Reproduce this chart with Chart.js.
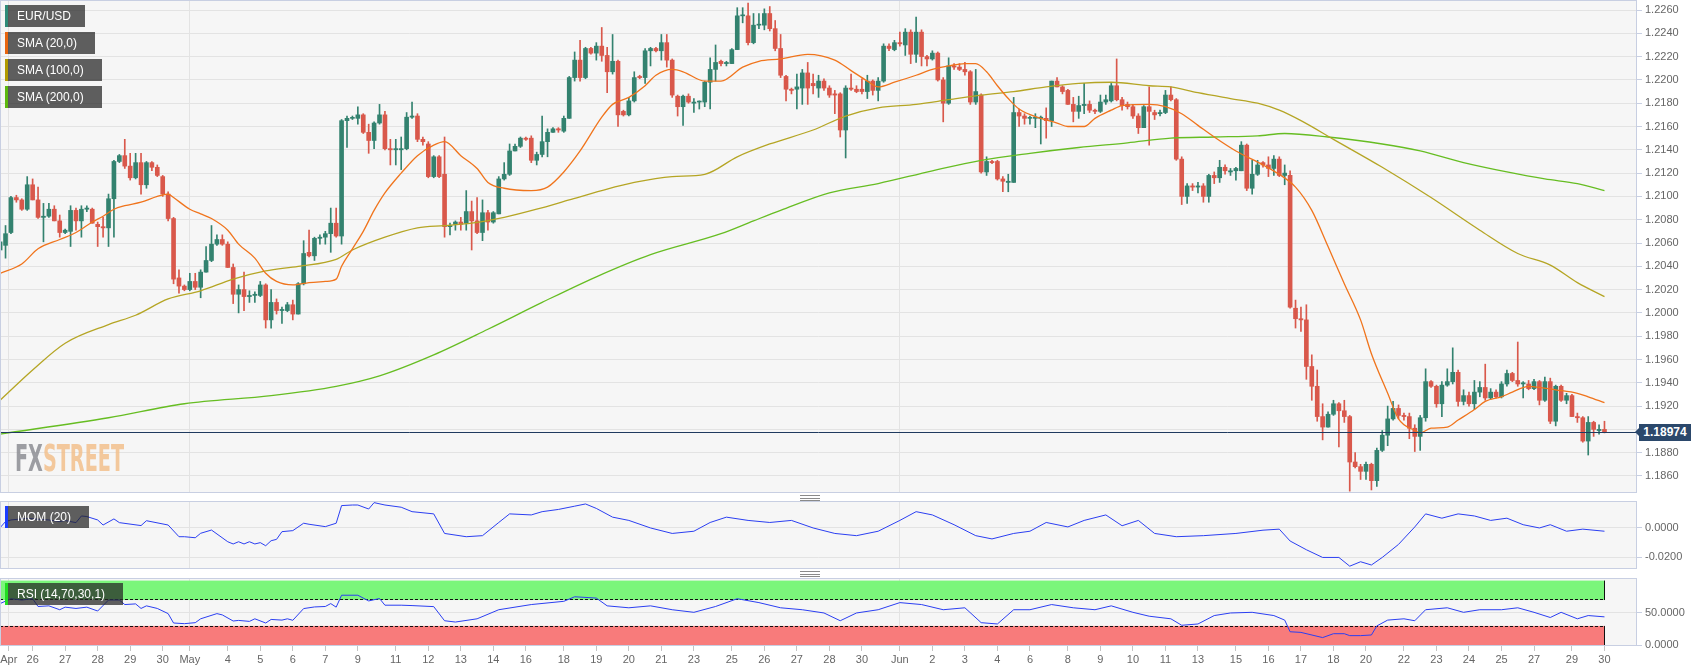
<!DOCTYPE html>
<html><head><meta charset="utf-8">
<script src="https://cdn.jsdelivr.net/npm/chart.js@4.4.1/dist/chart.umd.min.js"></script>
<style>
html,body{margin:0;padding:0;background:#fff;}
#wrap{position:relative;width:1707px;height:672px;overflow:hidden;font-family:"Liberation Sans",Arial,sans-serif;}
canvas{position:absolute;left:0;}
.tag{position:absolute;left:5px;height:22px;line-height:22px;color:#fff;font-size:12px;background:rgba(37,37,37,0.73);box-sizing:border-box;padding-left:12px;white-space:nowrap;}
.tag i{position:absolute;left:0;top:0;bottom:0;width:3px;}
#plabel{position:absolute;left:1639px;width:52px;height:17px;line-height:17px;background:#2b486b;color:#fff;font-weight:bold;font-size:12px;text-align:center;}
#plabel:before{content:'';position:absolute;left:-4px;top:4px;border-top:4.5px solid transparent;border-bottom:4.5px solid transparent;border-right:4px solid #2b486b;}
#wm{position:absolute;left:15px;top:440px;font-family:"DejaVu Sans Condensed","DejaVu Sans",sans-serif;font-weight:bold;font-size:37px;line-height:37px;transform-origin:0 0;white-space:nowrap;opacity:0.85;}
.grip{position:absolute;left:800px;width:20px;height:4px;border-top:1px solid #8a8a8a;border-bottom:1px solid #8a8a8a;}
.grip:after{content:'';position:absolute;left:0;right:0;top:1.5px;height:1px;background:#8a8a8a;}
</style></head>
<body>
<div id="wrap">
<canvas id="cMain" width="1707" height="493" style="top:0"></canvas>
<canvas id="cMom" width="1707" height="68" style="top:501px"></canvas>
<canvas id="cRsi" width="1707" height="94" style="top:578px"></canvas>
<div id="wm"><span style="color:#8c8e93">FX</span><span style="color:#f2c08c">STREET</span></div>
<div class="tag" style="top:5px;width:80px"><i style="background:#2e8b78"></i>EUR/USD</div>
<div class="tag" style="top:32px;width:90px"><i style="background:#e8650f"></i>SMA (20,0)</div>
<div class="tag" style="top:59px;width:97px"><i style="background:#b09a00"></i>SMA (100,0)</div>
<div class="tag" style="top:86px;width:97px"><i style="background:#5cb80f"></i>SMA (200,0)</div>
<div class="tag" style="top:506px;width:84px"><i style="background:#1a3cff"></i>MOM (20)</div>
<div class="tag" style="top:583px;width:118px"><i style="background:#22dd22"></i>RSI (14,70,30,1)</div>
<div class="grip" style="top:495px"></div>
<div class="grip" style="top:571px"></div>
<div id="plabel"></div>
</div>
<script>
// ---------------- DATA ----------------
const open = [
1.2054,1.2058,1.2069,1.2099,1.2097,1.2089,1.2110,1.2097,1.2082,1.2083,
1.2089,1.2079,1.2069,1.2070,1.2088,1.2079,1.2089,1.2089,1.2076,1.2074,
1.2073,1.2098,1.2130,1.2135,1.2126,1.2116,1.2129,1.2110,1.2129,1.2125,
1.2117,1.2102,1.2081,1.2030,1.2023,1.2020,1.2027,1.2022,1.2035,1.2045,
1.2059,1.2063,1.2059,1.2039,1.2016,1.2020,1.2014,1.2015,1.2015,1.2024,
1.1994,1.2009,1.2002,1.2002,1.2007,1.1999,1.2025,1.2052,1.2049,1.2064,
1.2065,1.2068,1.2077,1.2066,1.2165,1.2167,1.2167,1.2170,1.2155,1.2148,
1.2163,1.2170,1.2141,1.2140,1.2140,1.2141,1.2168,1.2169,1.2149,1.2145,
1.2117,1.2134,1.2119,1.2074,1.2076,1.2078,1.2077,1.2087,1.2079,1.2069,
1.2086,1.2078,1.2085,1.2115,1.2119,1.2139,1.2143,1.2150,1.2150,1.2131,
1.2136,1.2147,1.2155,1.2158,1.2156,1.2167,1.2202,1.2217,1.2202,1.2227,
1.2223,1.2229,1.2221,1.2207,1.2216,1.2173,1.2170,1.2182,1.2203,1.2202,
1.2225,1.2227,1.2225,1.2232,1.2217,1.2186,1.2177,1.2186,1.2180,1.2181,
1.2181,1.2198,1.2209,1.2216,1.2214,1.2214,1.2226,1.2255,1.2255,1.2232,
1.2247,1.2247,1.2257,1.2244,1.2227,1.2203,1.2192,1.2192,1.2193,1.2206,
1.2197,1.2193,1.2199,1.2193,1.2188,1.2188,1.2157,1.2193,1.2192,1.2192,
1.2190,1.2199,1.2191,1.2199,1.2229,1.2226,1.2232,1.2230,1.2241,1.2222,
1.2241,1.2220,1.2218,1.2223,1.2200,1.2180,1.2212,1.2211,1.2209,1.2207,
1.2181,1.2187,1.2121,1.2130,1.2130,1.2115,1.2112,1.2112,1.2172,1.2169,
1.2167,1.2167,1.2167,1.2167,1.2165,1.2199,1.2194,1.2191,1.2179,1.2173,
1.2178,1.2179,1.2174,1.2173,1.2181,1.2182,1.2195,1.2183,1.2179,1.2177,
1.2169,1.2159,1.2177,1.2172,1.2171,1.2172,1.2187,1.2183,1.2132,1.2100,
1.2109,1.2108,1.2109,1.2100,1.2118,1.2116,1.2125,1.2121,1.2122,1.2122,
1.2144,1.2107,1.2119,1.2129,1.2127,1.2124,1.2132,1.2118,1.2118,1.2004,
1.1995,1.1994,1.1954,1.1937,1.1911,1.1902,1.1913,1.1922,1.1916,1.1911,
1.1872,1.1868,1.1864,1.1870,1.1856,1.1882,1.1895,1.1909,1.1918,1.1912,
1.1911,1.1901,1.1894,1.1910,1.1941,1.1937,1.1922,1.1938,1.1941,1.1949,
1.1924,1.1929,1.1922,1.1932,1.1936,1.1927,1.1932,1.1928,1.1939,1.1948,
1.1942,1.1939,1.1939,1.1935,1.1941,1.1925,1.1941,1.1907,1.1937,1.1925,
1.1929,1.1911,1.1910,1.1890,1.1906,1.1899,1.1900];
const high = [
1.2064,1.2075,1.2100,1.2101,1.2098,1.2117,1.2115,1.2108,1.2094,1.2094,
1.2092,1.2084,1.2072,1.2092,1.2090,1.2092,1.2092,1.2090,1.2078,1.2082,
1.2102,1.2131,1.2136,1.2149,1.2137,1.2137,1.2137,1.2130,1.2130,1.2127,
1.2118,1.2104,1.2082,1.2037,1.2024,1.2034,1.2034,1.2037,1.2057,1.2075,
1.2067,1.2067,1.2061,1.2042,1.2024,1.2035,1.2019,1.2018,1.2027,1.2025,
1.2020,1.2012,1.2005,1.2009,1.2011,1.2026,1.2062,1.2071,1.2065,1.2067,
1.2070,1.2090,1.2090,1.2166,1.2169,1.2169,1.2177,1.2171,1.2162,1.2164,
1.2179,1.2173,1.2149,1.2149,1.2151,1.2172,1.2181,1.2171,1.2151,1.2147,
1.2135,1.2135,1.2151,1.2077,1.2079,1.2082,1.2105,1.2096,1.2099,1.2097,
1.2088,1.2087,1.2117,1.2129,1.2145,1.2145,1.2151,1.2151,1.2152,1.2138,
1.2169,1.2158,1.2159,1.2159,1.2169,1.2203,1.2224,1.2234,1.2228,1.2228,
1.2232,1.2245,1.2228,1.2239,1.2217,1.2174,1.2185,1.2207,1.2204,1.2227,
1.2228,1.2228,1.2239,1.2239,1.2218,1.2187,1.2187,1.2188,1.2184,1.2182,
1.2199,1.2219,1.2230,1.2217,1.2216,1.2227,1.2262,1.2262,1.2266,1.2257,
1.2257,1.2261,1.2263,1.2251,1.2239,1.2204,1.2193,1.2205,1.2209,1.2215,
1.2205,1.2204,1.2201,1.2195,1.2191,1.2189,1.2195,1.2205,1.2195,1.2201,
1.2204,1.2200,1.2202,1.2231,1.2231,1.2234,1.2241,1.2244,1.2243,1.2254,
1.2243,1.2221,1.2225,1.2224,1.2202,1.2219,1.2214,1.2214,1.2215,1.2208,
1.2209,1.2188,1.2134,1.2131,1.2131,1.2117,1.2119,1.2185,1.2175,1.2171,
1.2169,1.2171,1.2169,1.2176,1.2199,1.2202,1.2195,1.2192,1.2185,1.2186,
1.2197,1.2182,1.2175,1.2187,1.2187,1.2197,1.2218,1.2185,1.2181,1.2179,
1.2171,1.2178,1.2194,1.2174,1.2174,1.2191,1.2194,1.2184,1.2134,1.2111,
1.2111,1.2112,1.2111,1.2119,1.2121,1.2131,1.2127,1.2124,1.2125,1.2147,
1.2145,1.2131,1.2131,1.2130,1.2134,1.2135,1.2134,1.2127,1.2122,1.2011,
1.2005,1.2007,1.1964,1.1951,1.1922,1.1915,1.1925,1.1923,1.1925,1.1912,
1.1880,1.1870,1.1872,1.1871,1.1884,1.1899,1.1920,1.1924,1.1921,1.1914,
1.1914,1.1904,1.1912,1.1952,1.1942,1.1938,1.1941,1.1952,1.1970,1.1951,
1.1934,1.1932,1.1942,1.1941,1.1956,1.1935,1.1934,1.1941,1.1951,1.1949,
1.1975,1.1941,1.1942,1.1943,1.1942,1.1945,1.1944,1.1938,1.1938,1.1931,
1.1930,1.1914,1.1911,1.1911,1.1907,1.1904,1.1907];
const low = [
1.2048,1.2047,1.2068,1.2095,1.2088,1.2088,1.2097,1.2081,1.2061,1.2082,
1.2079,1.2065,1.2068,1.2057,1.2071,1.2065,1.2087,1.2077,1.2057,1.2065,
1.2057,1.2065,1.2129,1.2124,1.2114,1.2115,1.2102,1.2107,1.2122,1.2117,
1.2100,1.2079,1.2025,1.2017,1.2019,1.2019,1.2020,1.2013,1.2035,1.2044,
1.2058,1.2058,1.2039,1.2008,1.2000,1.2002,1.2009,1.2009,1.2014,1.1987,
1.1987,1.1999,1.1991,1.2001,1.1994,1.1999,1.2024,1.2048,1.2045,1.2059,
1.2059,1.2052,1.2065,1.2059,1.2142,1.2166,1.2162,1.2154,1.2137,1.2141,
1.2162,1.2140,1.2127,1.2127,1.2123,1.2140,1.2167,1.2147,1.2144,1.2116,
1.2116,1.2116,1.2065,1.2067,1.2071,1.2071,1.2071,1.2054,1.2068,1.2062,
1.2071,1.2077,1.2085,1.2114,1.2118,1.2139,1.2142,1.2148,1.2129,1.2127,
1.2134,1.2134,1.2155,1.2155,1.2155,1.2167,1.2199,1.2199,1.2201,1.2222,
1.2217,1.2216,1.2189,1.2205,1.2160,1.2169,1.2169,1.2181,1.2201,1.2197,
1.2212,1.2224,1.2217,1.2211,1.2185,1.2169,1.2161,1.2180,1.2172,1.2175,
1.2177,1.2175,1.2199,1.2212,1.2212,1.2214,1.2226,1.2249,1.2230,1.2231,
1.2244,1.2243,1.2242,1.2225,1.2202,1.2182,1.2188,1.2175,1.2179,1.2179,
1.2188,1.2185,1.2191,1.2185,1.2171,1.2151,1.2133,1.2191,1.2189,1.2188,
1.2184,1.2187,1.2182,1.2198,1.2225,1.2225,1.2229,1.2221,1.2214,1.2215,
1.2212,1.2212,1.2217,1.2199,1.2164,1.2179,1.2209,1.2208,1.2204,1.2179,
1.2179,1.2120,1.2118,1.2128,1.2114,1.2104,1.2104,1.2112,1.2160,1.2162,
1.2162,1.2159,1.2145,1.2150,1.2160,1.2194,1.2188,1.2179,1.2164,1.2167,
1.2171,1.2172,1.2171,1.2172,1.2179,1.2181,1.2182,1.2174,1.2175,1.2167,
1.2154,1.2159,1.2144,1.2166,1.2169,1.2171,1.2182,1.2131,1.2093,1.2094,
1.2105,1.2103,1.2095,1.2095,1.2111,1.2112,1.2119,1.2118,1.2114,1.2122,
1.2105,1.2102,1.2118,1.2125,1.2117,1.2118,1.2117,1.2110,1.2004,1.1987,
1.1984,1.1943,1.1925,1.1907,1.1891,1.1902,1.1912,1.1885,1.1906,1.1847,
1.1867,1.1857,1.1857,1.1848,1.1851,1.1881,1.1886,1.1908,1.1909,1.1908,
1.1892,1.1881,1.1882,1.1907,1.1936,1.1919,1.1911,1.1937,1.1939,1.1920,
1.1921,1.1920,1.1917,1.1928,1.1925,1.1926,1.1927,1.1927,1.1937,1.1941,
1.1937,1.1927,1.1934,1.1934,1.1921,1.1924,1.1905,1.1903,1.1924,1.1922,
1.1911,1.1906,1.1889,1.1878,1.1894,1.1896,1.1897];
const close = [
1.2061,1.2068,1.2099,1.2097,1.2089,1.2110,1.2097,1.2082,1.2083,1.2089,
1.2079,1.2069,1.2071,1.2088,1.2079,1.2089,1.2090,1.2077,1.2074,1.2073,
1.2098,1.2130,1.2135,1.2126,1.2116,1.2129,1.2110,1.2129,1.2125,1.2118,
1.2102,1.2081,1.2029,1.2023,1.2020,1.2027,1.2022,1.2035,1.2045,1.2059,
1.2063,1.2059,1.2039,1.2016,1.2020,1.2014,1.2015,1.2016,1.2024,1.1994,
1.2009,1.2002,1.2003,1.2007,1.1999,1.2025,1.2051,1.2049,1.2064,1.2065,
1.2068,1.2077,1.2066,1.2165,1.2167,1.2167,1.2170,1.2155,1.2148,1.2163,
1.2170,1.2141,1.2140,1.2141,1.2141,1.2168,1.2169,1.2149,1.2147,1.2117,
1.2134,1.2117,1.2074,1.2075,1.2078,1.2076,1.2087,1.2079,1.2069,1.2086,
1.2078,1.2086,1.2115,1.2119,1.2139,1.2143,1.2150,1.2149,1.2131,1.2136,
1.2147,1.2155,1.2158,1.2157,1.2167,1.2202,1.2217,1.2202,1.2227,1.2223,
1.2229,1.2221,1.2207,1.2216,1.2170,1.2170,1.2182,1.2202,1.2202,1.2225,
1.2227,1.2225,1.2232,1.2217,1.2187,1.2177,1.2186,1.2181,1.2181,1.2181,
1.2198,1.2209,1.2215,1.2214,1.2215,1.2226,1.2255,1.2255,1.2232,1.2247,
1.2247,1.2257,1.2244,1.2227,1.2204,1.2192,1.2191,1.2194,1.2206,1.2193,
1.2195,1.2199,1.2193,1.2187,1.2187,1.2157,1.2193,1.2192,1.2190,1.2190,
1.2199,1.2191,1.2199,1.2229,1.2227,1.2232,1.2231,1.2241,1.2222,1.2241,
1.2220,1.2218,1.2223,1.2200,1.2180,1.2212,1.2211,1.2209,1.2207,1.2181,
1.2190,1.2121,1.2130,1.2129,1.2115,1.2113,1.2113,1.2172,1.2169,1.2167,
1.2167,1.2168,1.2168,1.2165,1.2199,1.2194,1.2190,1.2179,1.2173,1.2178,
1.2179,1.2174,1.2173,1.2181,1.2183,1.2195,1.2183,1.2178,1.2177,1.2169,
1.2159,1.2177,1.2173,1.2170,1.2172,1.2187,1.2183,1.2132,1.2100,1.2109,
1.2108,1.2109,1.2100,1.2118,1.2116,1.2125,1.2122,1.2122,1.2124,1.2144,
1.2107,1.2119,1.2127,1.2127,1.2124,1.2132,1.2118,1.2120,1.2005,1.1995,
1.1994,1.1954,1.1937,1.1911,1.1902,1.1913,1.1922,1.1916,1.1911,1.1872,
1.1868,1.1864,1.1870,1.1856,1.1882,1.1895,1.1909,1.1918,1.1912,1.1911,
1.1901,1.1894,1.1910,1.1941,1.1937,1.1922,1.1938,1.1941,1.1949,1.1924,
1.1929,1.1922,1.1932,1.1936,1.1927,1.1932,1.1928,1.1939,1.1948,1.1942,
1.1939,1.1940,1.1935,1.1941,1.1925,1.1941,1.1907,1.1937,1.1925,1.1929,
1.1911,1.1910,1.1890,1.1906,1.1900,1.1900,1.18974];

const sma20Idx = [0,4,7,11,14,17,19,21,23,26,29,31,32,35,37,39,42,44,47,49,51,54,57,60,62,63,65,67,69,71,74,77,80,82,85,88,90,93,98,101,104,107,111,113,116,119,121,124,126,130,133,137,140,144,149,154,157,160,162,165,169,172,175,178,180,182,184,186,188,192,195,197,200,202,205,207,212,215,218,221,224,228,233,236,239,242,245,248,251,253,256,258,261,262,264,267,269,272,274,277,279,282,284,287,291,293,296];
const sma20 = [1.2034,1.2042,1.2055,1.2063,1.2069,1.2078,1.2083,1.2089,1.2092,1.2095,1.2100,1.2102,1.2099,1.2089,1.2085,1.2081,1.2071,1.2059,1.2047,1.2034,1.2027,1.2024,1.2026,1.2027,1.2029,1.2040,1.2055,1.2070,1.2088,1.2103,1.2120,1.2135,1.2144,1.2147,1.2135,1.2124,1.2112,1.2107,1.2105,1.2108,1.2121,1.2139,1.2168,1.2179,1.2185,1.2195,1.2204,1.2209,1.2207,1.2199,1.2199,1.2211,1.2216,1.2218,1.2222,1.2217,1.2208,1.2199,1.2194,1.2198,1.2204,1.2209,1.2212,1.2214,1.2214,1.2207,1.2195,1.2184,1.2175,1.2167,1.2163,1.2160,1.2160,1.2167,1.2174,1.2178,1.2179,1.2177,1.2171,1.2161,1.2151,1.2139,1.2127,1.2119,1.2108,1.2088,1.2057,1.2025,1.1994,1.1965,1.1931,1.1909,1.1899,1.1897,1.1901,1.1902,1.1908,1.1917,1.1924,1.1928,1.1932,1.1937,1.1936,1.1934,1.1931,1.1928,1.1923];
const sma100Idx = [0,6,12,20,25,31,37,43,49,55,62,65,71,77,82,87,93,99,105,111,117,124,130,136,142,150,156,162,169,175,181,187,193,199,205,212,216,221,227,232,236,240,246,255,264,273,280,286,291,296];
const sma100 = [1.1925,1.1951,1.1974,1.1990,1.1998,1.2012,1.2019,1.2029,1.2036,1.2040,1.2046,1.2054,1.2065,1.2073,1.2075,1.2077,1.2082,1.2089,1.2097,1.2105,1.2112,1.2117,1.2119,1.2134,1.2145,1.2157,1.2169,1.2176,1.2179,1.2183,1.2187,1.2190,1.2194,1.2197,1.2198,1.2195,1.2194,1.2189,1.2184,1.2180,1.2174,1.2165,1.2149,1.2125,1.2099,1.2071,1.2051,1.2041,1.2026,1.2014];
const sma200Idx = [0,20,34,50,62,70,80,90,100,110,120,133,139,144,153,162,172,181,190,199,208,216,224,232,237,245,255,262,270,278,285,291,296];
const sma200 = [1.1896,1.1910,1.1922,1.1929,1.1937,1.1946,1.1964,1.1986,1.2009,1.2031,1.2050,1.2068,1.2079,1.2088,1.2103,1.2111,1.2122,1.2131,1.2137,1.2142,1.2146,1.2150,1.2151,1.2152,1.2154,1.2151,1.2145,1.2139,1.2129,1.2121,1.2115,1.2111,1.2105];

const momIdx = [0,1,2,5,7,9,11,12,14,15,16,18,19,21,22,26,27,31,33,34,36,37,39,42,43,44,45,46,47,48,49,50,51,52,54,56,57,60,62,63,65,66,68,69,71,74,76,80,82,86,89,92,94,98,100,103,106,108,110,113,116,120,124,128,131,134,138,142,146,150,154,158,162,166,169,172,176,180,183,187,190,193,197,200,204,207,210,213,217,222,228,233,236,238,241,244,247,249,251,253,255,258,261,263,266,269,272,275,278,281,284,286,289,292,296];
const momVals = [0.0000,0.0041,0.0052,0.0063,0.0057,0.0052,0.0041,0.0048,0.0034,0.0079,0.0075,0.0052,0.0018,0.0059,0.0034,0.0014,0.0047,0.0018,-0.0061,-0.0061,-0.0068,-0.0038,-0.0016,-0.0095,-0.0110,-0.0095,-0.0110,-0.0095,-0.0110,-0.0101,-0.0122,-0.0088,-0.0079,-0.0027,-0.0020,0.0030,0.0023,0.0007,0.0030,0.0149,0.0153,0.0153,0.0126,0.0169,0.0153,0.0138,0.0108,0.0093,-0.0039,-0.0061,-0.0054,0.0035,0.0093,0.0086,0.0108,0.0123,0.0145,0.0160,0.0130,0.0071,0.0049,-0.0002,-0.0039,-0.0024,0.0035,0.0071,0.0049,0.0035,0.0049,-0.0002,-0.0039,-0.0054,-0.0024,0.0049,0.0108,0.0086,0.0020,-0.0054,-0.0076,-0.0039,-0.0024,0.0035,0.0005,0.0049,0.0086,0.0013,0.0049,-0.0039,-0.0061,-0.0054,-0.0039,-0.0017,-0.0010,-0.0090,-0.0149,-0.0201,-0.0201,-0.0260,-0.0230,-0.0252,-0.0201,-0.0113,0.0005,0.0093,0.0064,0.0093,0.0079,0.0049,0.0064,0.0020,-0.0002,0.0020,-0.0024,-0.0010,-0.0024];

const rsiIdx = [0,2,4,6,7,9,11,12,14,16,18,20,22,23,25,26,27,29,31,32,34,36,37,40,41,43,44,46,47,49,50,52,53,54,56,58,60,61,62,63,66,68,70,71,74,76,80,82,84,88,92,98,104,106,110,112,116,120,124,128,132,136,140,144,148,152,155,158,162,166,170,174,178,181,184,187,190,194,198,202,205,209,212,216,218,221,224,227,231,235,237,238,240,244,246,248,249,251,253,254,256,259,261,263,267,270,273,277,280,283,286,288,291,293,296];
const rsiVals = [64.5,72,70,72,60,61,55,59,57,59,53,70,70,63,64,57,61,57,49,34.5,33.5,35,41,49,47,37.6,38.5,37,41,34.5,40,39,41,38.7,56.8,59.3,60,64.5,59,77.4,77.4,68.6,72.3,62,62,61.4,59.8,38,36,41,55,63,68,75,73,61,58,61,55,51,60,72,66,58,55,50,38,50,55,66,63,55,58,35,33,55,55,63,58,55,61,51,45,41,31,33,46,50,51,46,39,21,20,12,18,18,15,15,16,30,39,41,38,55,58,51,55,55,58,51,43,51,41,46,44];
const rsiBands = [{lo:70, hi:100, color:'#7bf67b'}, {lo:0, hi:30, color:'#f87b7b'}];

const xTickIdx = [1.6,6,12,18,24,30,35,42,48,54,60,66,73,79,85,91,97,104,110,116,122,128,135,141,147,153,159,166,172,178,184,190,197,203,209,215,221,228,234,240,246,252,259,265,271,277,283,290,296];
const xTickLabels = ['Apr','26','27','28','29','30','May','4','5','6','7','9','11','12','13','14','16','18','19','20','21','23','25','26','27','28','30','Jun','2','3','4','6','8','9','10','11','13','15','16','17','18','20','22','23','24','25','27','29','30'];
const priceTicks = [1.1860,1.1880,1.1900,1.1920,1.1940,1.1960,1.1980,1.2000,1.2020,1.2040,1.2060,1.2080,1.2100,1.2120,1.2140,1.2160,1.2180,1.2200,1.2220,1.2240,1.2260];
const momTicks = [-0.02, 0];
const rsiTicks = [0, 50];

// ---------------- STYLE / HELPERS ----------------
Chart.defaults.font.family = '"Liberation Sans", Arial, sans-serif';
Chart.defaults.font.size = 11;
Chart.defaults.color = '#666';
const X_MIN = -0.02, X_MAX = 302, AXIS_W = 70;
const PANEL_BG = '#f6f6f6', FRAME = '#c8cfe2', GRID = '#e3e3e3';
const GREEN = '#33826f', RED = '#d9584b';
const monthIdx = xTickIdx.filter((v, i) => isNaN(Number(xTickLabels[i])));
const lastIdx = close.length - 1;
const lastPrice = close[lastIdx];

const framePlugin = {
  id: 'frame',
  beforeDraw(c) {
    const {ctx, chartArea: a} = c;
    ctx.save(); ctx.fillStyle = PANEL_BG;
    ctx.fillRect(a.left, a.top, a.right - a.left, a.bottom - a.top); ctx.restore();
  },
  afterDraw(c) {
    const {ctx, chartArea: a} = c;
    ctx.save(); ctx.strokeStyle = FRAME; ctx.lineWidth = 1;
    ctx.strokeRect(a.left + 0.5, a.top + 0.5, a.right - a.left - 1, a.bottom - a.top - 1);
    ctx.restore();
  }
};
const priceLinePlugin = {
  id: 'priceLine',
  afterDatasetsDraw(c) {
    const {ctx, chartArea: a} = c;
    const y = Math.round(c.scales.y.getPixelForValue(lastPrice)) + 0.5;
    ctx.save(); ctx.strokeStyle = '#1f3a5f'; ctx.lineWidth = 1;
    ctx.beginPath(); ctx.moveTo(a.left, y); ctx.lineTo(a.right, y); ctx.stroke(); ctx.restore();
  }
};
const bandsPlugin = {
  id: 'bands',
  beforeDatasetsDraw(c) {
    const {ctx, chartArea: a, scales: {x, y}} = c;
    const xr = Math.round(x.getPixelForValue(lastIdx)) + 0.5;
    ctx.save();
    rsiBands.forEach(b => {
      const yt = y.getPixelForValue(b.hi), yb = y.getPixelForValue(b.lo);
      ctx.fillStyle = b.color; ctx.fillRect(a.left, yt, xr - a.left, yb - yt);
      ctx.strokeStyle = '#111'; ctx.lineWidth = 1;
      ctx.setLineDash([]);
      ctx.beginPath(); ctx.moveTo(xr, yt); ctx.lineTo(xr, yb); ctx.stroke();
      ctx.beginPath(); ctx.moveTo(a.left + 0.5, yt); ctx.lineTo(a.left + 0.5, yb); ctx.stroke();
      const edge = b.lo > 50 ? Math.round(yb) - 0.5 : Math.round(yt) + 0.5;
      ctx.setLineDash([3, 2]);
      ctx.beginPath(); ctx.moveTo(a.left, edge); ctx.lineTo(xr, edge); ctx.stroke();
    });
    ctx.restore();
  }
};

function xAxis(showLabels) {
  return {
    type: 'linear', min: X_MIN, max: X_MAX, offset: false,
    grid: {
      offset: false,
      color: ctx => (ctx.tick && monthIdx.includes(ctx.tick.value)) ? GRID : 'rgba(0,0,0,0)',
      drawTicks: showLabels, tickLength: 5, tickColor: '#c4c4c4'
    },
    border: {display: false},
    ticks: {display: showLabels, autoSkip: false, maxRotation: 0, minRotation: 0, padding: 2, color: '#666', font: {size: 11},
      callback: (v, i) => xTickLabels[i]},
    afterBuildTicks: s => { s.ticks = (showLabels ? xTickIdx : monthIdx).map(v => ({value: v})); },
    afterFit: s => { s.paddingLeft = 0; s.paddingRight = 0; s.height = showLabels ? 26 : 0; }
  };
}
function yAxis(min, max, ticks) {
  return {
    position: 'right', min, max,
    grid: {color: GRID, tickLength: 5, tickColor: FRAME, drawTicks: true},
    border: {display: false},
    ticks: {padding: 3, color: '#666', font: {size: 11}, callback: v => Number(v).toFixed(4)},
    afterBuildTicks: s => { s.ticks = ticks.map(v => ({value: v})); },
    afterFit: s => { s.width = AXIS_W; s.paddingTop = 0; s.paddingBottom = 0; }
  };
}
const baseOpts = {
  responsive: false, maintainAspectRatio: false, animation: false, events: [],
  layout: {padding: 0},
  plugins: {legend: {display: false}, tooltip: {enabled: false}}
};
const pts = (xs, ys) => xs.map((x, i) => ({x, y: ys[i]}));

// ---------------- MAIN CHART ----------------
const candleColors = close.map((c, i) => c >= open[i] ? GREEN : RED);
const bodyData = close.map((c, i) => ({x: i, y: [open[i], c]}));
const wickData = close.map((c, i) => ({x: i, y: [low[i], high[i]]}));
const lineDs = (data, color) => ({type: 'line', data, borderColor: color, borderWidth: 1.3, pointRadius: 0,
  cubicInterpolationMode: 'monotone', fill: false, order: 0});

const mainChart = new Chart(document.getElementById('cMain'), {
  type: 'bar',
  data: {datasets: [
    lineDs(pts(sma20Idx, sma20), '#f0741c'),
    lineDs(pts(sma100Idx, sma100), '#b5a524'),
    lineDs(pts(sma200Idx, sma200), '#66bd22'),
    {type: 'bar', data: bodyData, backgroundColor: candleColors, barThickness: 4, grouped: false, minBarLength: 1, borderWidth: 0, order: 1},
    {type: 'bar', data: wickData, backgroundColor: candleColors, barThickness: 1, grouped: false, minBarLength: 1, borderWidth: 0, order: 2}
  ]},
  options: Object.assign({}, baseOpts, {scales: {x: xAxis(false), y: yAxis(1.18454, 1.22686, priceTicks)}}),
  plugins: [framePlugin, priceLinePlugin]
});

// ---------------- MOM ----------------
new Chart(document.getElementById('cMom'), {
  type: 'line',
  data: {datasets: [{data: pts(momIdx, momVals), borderColor: '#2b3ff2', borderWidth: 1, pointRadius: 0, tension: 0}]},
  options: Object.assign({}, baseOpts, {scales: {x: xAxis(false), y: yAxis(-0.0279, 0.0180, momTicks)}}),
  plugins: [framePlugin]
});

// ---------------- RSI ----------------
new Chart(document.getElementById('cRsi'), {
  type: 'line',
  data: {datasets: [{data: pts(rsiIdx, rsiVals), borderColor: '#2b3ff2', borderWidth: 1, pointRadius: 0, tension: 0}]},
  options: Object.assign({}, baseOpts, {scales: {x: xAxis(true), y: yAxis(-1, 104, rsiTicks)}}),
  plugins: [framePlugin, bandsPlugin]
});

// ---------------- OVERLAYS ----------------
const pl = document.getElementById('plabel');
pl.textContent = lastPrice.toFixed(5);
pl.style.top = (mainChart.scales.y.getPixelForValue(lastPrice) - 8.5) + 'px';
const wm = document.getElementById('wm');
const w = wm.getBoundingClientRect().width;
wm.style.transform = 'scaleX(' + (109 / w) + ')';
</script>
</body></html>
